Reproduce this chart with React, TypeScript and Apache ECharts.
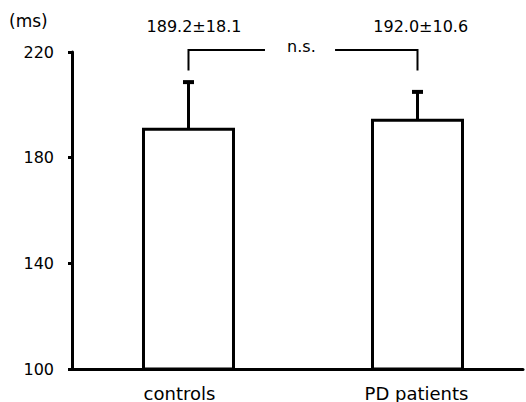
import React, { useEffect, useRef } from "react";
import * as echarts from "echarts";

const categories = ["controls", "PD patients"];
const xPositions = [1, 2];
const means = [190.8, 194.2];
const sds = [17.8, 10.7];
const statLabels = ["189.2\u00b118.1", "192.0\u00b110.6"];
const yTicks = [100, 140, 180, 220];
const sigLabel = "n.s.";
const unitLabel = "(ms)";

export default function App() {
  const ref = useRef<HTMLDivElement>(null);
  useEffect(() => {
    if (!ref.current) return;
    const chart = echarts.init(ref.current, null, { renderer: "svg" });
    const black = "#000";
    const option: any = {
      animation: false,
      backgroundColor: "#fff",
      grid: { left: 72, right: 3, top: 52, bottom: 33 },
      graphic: [
        {
          type: "text",
          left: 9,
          top: 12,
          style: { text: unitLabel, fontSize: 17, fontFamily: "DejaVu Sans", fill: black },
        },
      ],
      xAxis: {
        type: "value",
        min: 0.4913,
        max: 2.4607,
        axisLine: { show: true, onZero: false, lineStyle: { color: black, width: 3 } },
        axisTick: { show: false },
        splitLine: { show: false },
        axisLabel: {
          customValues: xPositions,
          formatter: (v: number) => {
            const i = Math.round(v) - 1;
            return categories[i] ? `{c${i}|${categories[i]}}` : "";
          },
          rich: {
            c0: { fontFamily: "DejaVu Sans", fontSize: 18, color: black, padding: [0, 18, 0, 0] },
            c1: { fontFamily: "DejaVu Sans", fontSize: 18, color: black, padding: [0, 2, 0, 0] },
          },
          margin: 15,
          fontFamily: "DejaVu Sans",
          fontSize: 18,
          color: black,
        },
      },
      yAxis: {
        type: "value",
        min: yTicks[0],
        max: yTicks[yTicks.length - 1],
        interval: yTicks[1] - yTicks[0],
        axisLine: { show: true, lineStyle: { color: black, width: 3 } },
        axisTick: { show: true, length: 4, lineStyle: { color: black, width: 3 } },
        splitLine: { show: false },
        axisLabel: { margin: 18, fontFamily: "DejaVu Sans", fontSize: 16, color: black },
      },
      series: [
        {
          type: "custom",
          clip: false,
          silent: true,
          data: xPositions.map((x, i) => [x, means[i]]),
          renderItem: (params: any, api: any) => {
            const x = api.value(0);
            const m = api.value(1);
            const top = api.coord([x, m]);
            const bot = api.coord([x, yTicks[0]]);
            const w = 90;
            return {
              type: "rect",
              shape: { x: top[0] - w / 2, y: top[1], width: w, height: bot[1] - top[1] },
              style: { fill: "#fff", stroke: black, lineWidth: 3 },
            };
          },
        },
        {
          type: "custom",
          clip: false,
          silent: true,
          data: xPositions.map((x, i) => [x, means[i], sds[i]]),
          renderItem: (params: any, api: any) => {
            const x = api.value(0);
            const m = api.value(1);
            const s = api.value(2);
            const p0 = api.coord([x, m]);
            const p1 = api.coord([x, m + s]);
            return {
              type: "group",
              children: [
                {
                  type: "line",
                  shape: { x1: p0[0], y1: p0[1], x2: p1[0], y2: p1[1] },
                  style: { stroke: black, lineWidth: 3 },
                },
                {
                  type: "line",
                  shape: { x1: p1[0] - 5.5, y1: p1[1], x2: p1[0] + 5.5, y2: p1[1] },
                  style: { stroke: black, lineWidth: 4 },
                },
              ],
            };
          },
        },
        {
          type: "custom",
          clip: false,
          silent: true,
          data: [[xPositions[0], means[0]]],
          renderItem: (params: any, api: any) => {
            const bracketY = 220.75;
            const legY = 213.0;
            const a0 = api.coord([xPositions[0], legY]);
            const a1 = api.coord([xPositions[0], bracketY]);
            const a2 = api.coord([1.334, bracketY]);
            const b0 = api.coord([1.64, bracketY]);
            const b1 = api.coord([xPositions[1], bracketY]);
            const b2 = api.coord([xPositions[1], legY]);
            const ns = api.coord([1.493, 221.9]);
            const lbl = [api.coord([1.024, 229.5]), api.coord([2.014, 229.5])];
            const textStyle = { fill: black, fontSize: 16, fontFamily: "DejaVu Sans", align: "center", verticalAlign: "middle" };
            return {
              type: "group",
              children: [
                {
                  type: "polyline",
                  shape: { points: [a0, a1, a2] },
                  style: { stroke: black, lineWidth: 2, fill: null },
                },
                {
                  type: "polyline",
                  shape: { points: [b0, b1, b2] },
                  style: { stroke: black, lineWidth: 2, fill: null },
                },
                { type: "text", style: { ...textStyle, text: sigLabel, x: ns[0], y: ns[1] } },
                ...statLabels.map((t, i) => ({
                  type: "text",
                  style: { ...textStyle, text: t, x: lbl[i][0], y: lbl[i][1] },
                })),
              ],
            };
          },
        },
      ],
    };
    chart.setOption(option);
    return () => chart.dispose();
  }, []);
  return (
    <div
      ref={ref}
      style={{ position: "fixed", left: 0, top: 0, width: 526, height: 402, background: "#fff" }}
    />
  );
}
